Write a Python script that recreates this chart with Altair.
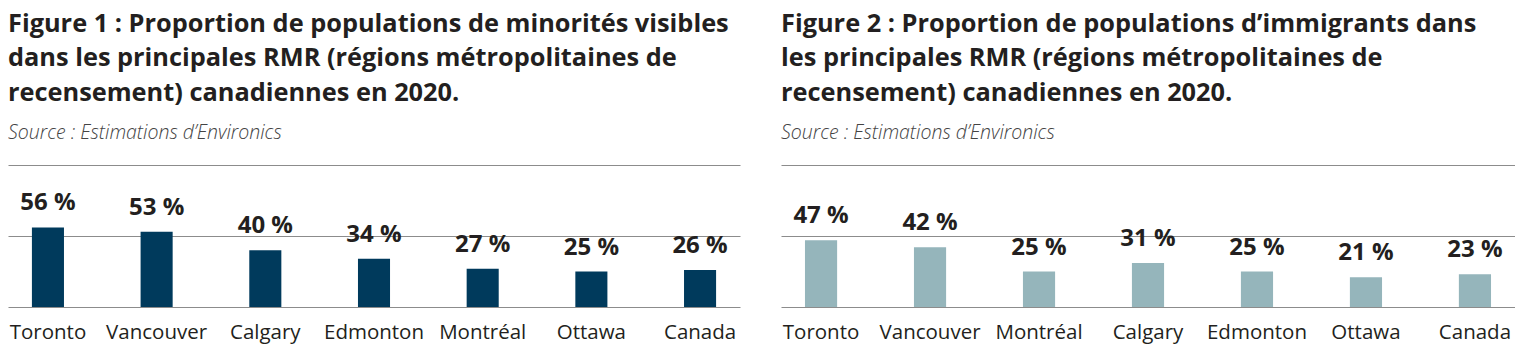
import altair as alt
import pandas as pd

# Figure 1 data
cities1 = ["Toronto", "Vancouver", "Calgary", "Edmonton", "Montréal", "Ottawa", "Canada"]
values1 = [56, 53, 40, 34, 27, 25, 26]

# Figure 2 data
cities2 = ["Toronto", "Vancouver", "Montréal", "Calgary", "Edmonton", "Ottawa", "Canada"]
values2 = [47, 42, 25, 31, 25, 21, 23]

title1 = ["Figure 1 : Proportion de populations de minorités visibles",
          "dans les principales RMR (régions métropolitaines de",
          "recensement) canadiennes en 2020."]
title2 = ["Figure 2 : Proportion de populations d’immigrants dans",
          "les principales RMR (régions métropolitaines de",
          "recensement) canadiennes en 2020."]
source = "Source : Estimations d’Environics"

TITLE_FONT = "Open Sans"
TEXT_COLOR = "#231f20"


def panel(cities, values, color, title, width):
    df = pd.DataFrame({"city": cities, "value": values,
                       "label": [f"{v} %" for v in values]})
    x = alt.X("city:N", sort=cities, title=None,
              scale=alt.Scale(paddingInner=0.705, paddingOuter=0.22),
              axis=alt.Axis(labelAngle=0, ticks=False, domain=False,
                            labelFont="Open Sans", labelFontSize=20.5,
                            labelColor=TEXT_COLOR, labelPadding=15,
                            labelFontWeight="normal"))
    y = alt.Y("value:Q", title=None,
              scale=alt.Scale(domain=[0, 100]),
              axis=alt.Axis(values=[0, 50, 100], labels=False, ticks=False,
                            domain=False, grid=True, gridColor="#8c8c8c",
                            gridWidth=1.2))
    base = alt.Chart(df)
    bars = base.mark_bar(color=color).encode(x=x, y=y)
    text = base.mark_text(dy=-17, baseline="alphabetic", font="Open Sans",
                          fontSize=24, fontWeight="bold",
                          color=TEXT_COLOR).encode(x=x, y=y, text="label:N")
    return alt.layer(bars, text).properties(
        width=width, height=142,
        title=alt.TitleParams(
            text=title, subtitle=source, anchor="start",
            font=TITLE_FONT, fontSize=25.35, fontWeight="bold", color=TEXT_COLOR,
            lineHeight=34.5,
            subtitleFont="Open Sans", subtitleFontSize=19.5,
            subtitleFontStyle="italic", subtitleFontWeight=300,
            subtitleColor="#444444",
            subtitlePadding=17.5, offset=23))


p1 = panel(cities1, values1, "#003a5c", title1, 732)
p2 = panel(cities2, values2, "#95b5bb", title2, 734)

chart = alt.hconcat(p1, p2, spacing=41).properties(
    padding={"left": 0, "top": 3, "right": 0, "bottom": 20}).configure_view(
    stroke=None)

chart.save("out.html", embed_options={"renderer": "svg", "actions": False})
